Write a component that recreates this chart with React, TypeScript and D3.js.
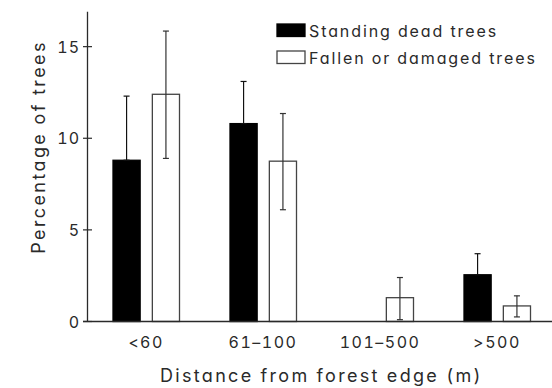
import React from "react";
import * as d3 from "d3";

const categories = ["<60", "61–100", "101–500", ">500"];
const seriesNames = ["Standing dead trees", "Fallen or damaged trees"];
const standingMean = [8.8, 10.8, 0, 2.55];
const standingUpper = [12.3, 13.1, 0, 3.7];
const standingLower = [8.8, 10.8, 0, 2.55];
const fallenMean = [12.4, 8.75, 1.3, 0.85];
const fallenUpper = [15.85, 11.35, 2.4, 1.4];
const fallenLower = [8.9, 6.1, 0.1, 0.25];
const yTicks = [0, 5, 10, 15];

const W = 552;
const H = 388;
const FONT = "Inter, 'DejaVu Sans', sans-serif";
const INK = "#2a2a2a";
const FEAT = { fontFeatureSettings: "'cv11', 'tnum'" };

export default function App() {
  const x0 = d3.scaleBand<string>().domain(categories).range([87.5, 555.5]).padding(0);
  const x1 = d3
    .scaleBand<string>()
    .domain(seriesNames)
    .range([25.5, 92])
    .paddingInner(0.31);
  const y = d3.scaleLinear().domain([0, 17]).range([321.5, 10]);

  const series = [
    { name: seriesNames[0], mean: standingMean, up: standingUpper, lo: standingLower, fill: "#000" },
    { name: seriesNames[1], mean: fallenMean, up: fallenUpper, lo: fallenLower, fill: "#fff" },
  ];

  const axisX = x0.range()[0];
  const bw = x1.bandwidth();

  return (
    <svg
      width={W}
      height={H}
      style={{ position: "absolute", left: 0, top: 0, background: "#fff" }}
      fontFamily={FONT}
    >
      {/* bars */}
      {series.map((s) =>
        categories.map((c, i) => {
          if (s.mean[i] <= 0) return null;
          const bx = (x0(c) ?? 0) + (x1(s.name) ?? 0);
          return (
            <rect
              key={s.name + c}
              x={bx}
              y={y(s.mean[i])}
              width={bw}
              height={y(0) - y(s.mean[i])}
              fill={s.fill}
              stroke={s.fill === "#000" ? "#000" : "#444"}
              strokeWidth={1.3}
            />
          );
        })
      )}
      {/* error bars */}
      {series.map((s) =>
        categories.map((c, i) => {
          if (s.up[i] <= 0) return null;
          const cx = (x0(c) ?? 0) + (x1(s.name) ?? 0) + bw / 2;
          const stroke = s.fill === "#000" ? "#111" : "#333";
          return (
            <g key={"e" + s.name + c} stroke={stroke} strokeWidth={1.2}>
              <line x1={cx} x2={cx} y1={y(s.lo[i])} y2={y(s.up[i])} />
              <line x1={cx - 3} x2={cx + 3} y1={y(s.up[i])} y2={y(s.up[i])} />
              <line x1={cx - 3} x2={cx + 3} y1={y(s.lo[i])} y2={y(s.lo[i])} />
            </g>
          );
        })
      )}
      {/* axes */}
      <line x1={axisX} x2={axisX} y1={y(0)} y2={y(16.9)} stroke={INK} strokeWidth={1.3} />
      <line x1={83} x2={W} y1={y(0)} y2={y(0)} stroke={INK} strokeWidth={1.3} />
      {yTicks.map((t) => (
        <g key={"yt" + t}>
          <line x1={axisX - 4.5} x2={axisX + 4.5} y1={y(t)} y2={y(t)} stroke={INK} strokeWidth={1.2} />
          <text
            x={80}
            y={y(t)}
            textAnchor="end"
            dominantBaseline="central"
            fontSize={16}
            fill={INK}
            letterSpacing={1}
            style={FEAT}
          >
            {t}
          </text>
        </g>
      ))}
      {categories.map((c) => (
        <text
          key={"xt" + c}
          x={(x0(c) ?? 0) + x0.bandwidth() / 2}
          y={342}
          textAnchor="middle"
          dominantBaseline="central"
          fontSize={16}
          fill={INK}
          letterSpacing={1.5}
          style={FEAT}
        >
          {c}
        </text>
      ))}
      <text
        x={321.5}
        y={375.5}
        textAnchor="middle"
        dominantBaseline="central"
        fontSize={18}
        fill={INK}
        letterSpacing={2.3}
        style={FEAT}
      >
        Distance from forest edge (m)
      </text>
      <text
        transform={`translate(38.5,147) rotate(-90)`}
        textAnchor="middle"
        dominantBaseline="central"
        fontSize={18}
        fill={INK}
        letterSpacing={2.4}
        style={FEAT}
      >
        Percentage of trees
      </text>
      {/* legend */}
      {series.map((s, i) => (
        <g key={"lg" + s.name} transform={`translate(277,${24 + i * 27})`}>
          <rect
            x={0}
            y={0}
            width={28}
            height={12.5}
            fill={s.fill}
            stroke={s.fill === "#000" ? "#000" : "#444"}
            strokeWidth={1.3}
          />
          <text
            x={32}
            y={7}
            dominantBaseline="central"
            fontSize={16}
            fill={INK}
            letterSpacing={1.9}
            style={FEAT}
          >
            {s.name}
          </text>
        </g>
      ))}
    </svg>
  );
}
